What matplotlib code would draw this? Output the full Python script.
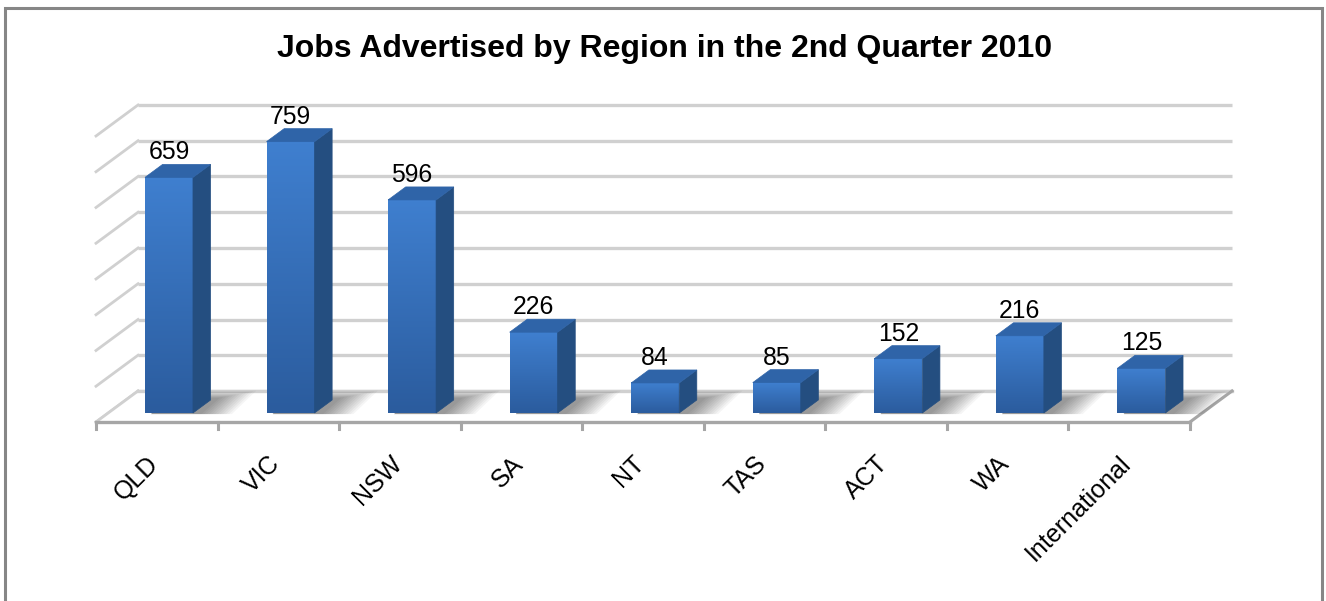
import matplotlib
matplotlib.use('Agg')
import matplotlib.pyplot as plt
import numpy as np
from matplotlib.patches import Polygon, Rectangle
from matplotlib.transforms import offset_copy
from matplotlib.colors import LinearSegmentedColormap

# ---- data ----
categories = ['QLD', 'VIC', 'NSW', 'SA', 'NT', 'TAS', 'ACT', 'WA', 'International']
values = [659, 759, 596, 226, 84, 85, 152, 216, 125]
y_max = 800
y_step = 100
title = 'Jobs Advertised by Region in the 2nd Quarter 2010'

plt.rcParams['font.family'] = ['Liberation Sans', 'DejaVu Sans']

W, H = 1326, 601
DPI = 100
fig = plt.figure(figsize=(W / DPI, H / DPI), dpi=DPI)
fig.patch.set_facecolor('white')

# layout (pixels)
x0_px, x1_px = 96, 1190      # front floor edge
floor_px_from_top = 422      # front floor edge y
px_per_unit = 0.3575         # pixels per value unit
n = len(categories)
px_per_cat = (x1_px - x0_px) / n

ax = fig.add_axes([0, 0, 1, 1])
ax.set_axis_off()
y_floor_from_bottom = H - floor_px_from_top

# depth vector (full floor depth) in data units
D_X = 42 / px_per_cat
D_Y = 31 / px_per_unit

grid_col = '#D0D0D0'
edge_col = '#A6A6A6'

# back wall gridlines and left wall diagonals
for v in np.arange(0, y_max + 1, y_step):
    ax.plot([D_X, n + D_X], [v + D_Y, v + D_Y], color=grid_col, lw=2.4, solid_capstyle='butt', zorder=1)
    ax.plot([0, D_X], [v, v + D_Y], color=grid_col, lw=2.0, zorder=1)

# floor
floor = Polygon([(0, 0), (n, 0), (n + D_X, D_Y), (D_X, D_Y)], closed=True,
                facecolor='white', edgecolor='none', zorder=2)
ax.add_patch(floor)
ax.plot([D_X, n + D_X], [D_Y, D_Y], color=grid_col, lw=2.4, zorder=2.1)
ax.plot([0, D_X], [0, D_Y], color=grid_col, lw=2.0, zorder=2.1)
ax.plot([n, n + D_X], [0, D_Y], color=edge_col, lw=2.2, zorder=2.1)
ax.plot([0, n], [0, 0], color=edge_col, lw=2.4, zorder=6)
tick_len = 7 / px_per_unit
for i in range(n + 1):
    ax.plot([i, i], [0, -tick_len], color=edge_col, lw=2.2, zorder=6)

# bars
d0 = 9 / 31
dd = 13 / 31
bar_w = 48 / px_per_cat
front_cmap = LinearSegmentedColormap.from_list('front', ['#2B5C9E', '#3F7FCF'])
side_col = '#244E80'
top_col = '#2F64A8'

for i, (cat, v) in enumerate(zip(categories, values)):
    c = i + 0.5 + d0 * D_X
    yb = d0 * D_Y
    xl, xr = c - bar_w / 2, c + bar_w / 2
    yt = v + yb
    ox, oy = dd * D_X, dd * D_Y

    # shadow on floor
    for k in range(12):
        s = k / 11.0
        grow = 0.03 + 0.25 * (1 - s)
        shx = 0.04
        pts = [(xl + 0.05, yb - 3),
               (xr + shx + grow, yb - 3),
               (xr + ox + shx + grow * 1.2, yb + oy + 6 + 20 * (1 - s)),
               (xl + ox + 0.05, yb + oy + 6 + 20 * (1 - s))]
        ax.add_patch(Polygon(pts, closed=True, facecolor='black', edgecolor='none',
                             alpha=0.04, zorder=3))

    # front face gradient
    grad = np.linspace(0, 1, 64).reshape(-1, 1)
    ax.imshow(grad, extent=[xl, xr, yb, yt], origin='lower', cmap=front_cmap,
              aspect='auto', zorder=4, interpolation='bilinear')
    # side face
    ax.add_patch(Polygon([(xr, yb), (xr + ox, yb + oy), (xr + ox, yt + oy), (xr, yt)],
                         closed=True, facecolor=side_col, edgecolor=side_col, lw=0.5, zorder=4))
    # top face
    ax.add_patch(Polygon([(xl, yt), (xr, yt), (xr + ox, yt + oy), (xl + ox, yt + oy)],
                         closed=True, facecolor=top_col, edgecolor=top_col, lw=0.5, zorder=4))

    # value label
    ax.annotate(str(v), xy=(c, yt), xytext=(0, 18 * 72 / DPI), textcoords='offset points',
                ha='center', va='baseline', fontsize=17.8, color='black', zorder=7)

    # category label
    tr = offset_copy(ax.transData, fig=fig, x=-2, y=-38, units='dots')
    ax.text(i + 0.5, 0, cat, transform=tr, rotation=45, rotation_mode='anchor',
            ha='right', va='center', fontsize=18, color='black', zorder=7)

ax.set_xlim(-x0_px / px_per_cat, (W - x0_px) / px_per_cat)
ax.set_ylim(-y_floor_from_bottom / px_per_unit, (H - y_floor_from_bottom) / px_per_unit)

# title
fig.text(665 / W, 1 - 57 / H, title, ha='center', va='baseline',
         fontsize=23, fontweight='bold', color='black')

# outer border
fig.patches.append(Rectangle((5 / W, -20 / H), 1317 / W, (H - 8 + 20) / H,
                             transform=fig.transFigure, fill=False,
                             edgecolor='#868686', lw=2.2, zorder=10))

fig.savefig('out.png', dpi=DPI, facecolor='white')
